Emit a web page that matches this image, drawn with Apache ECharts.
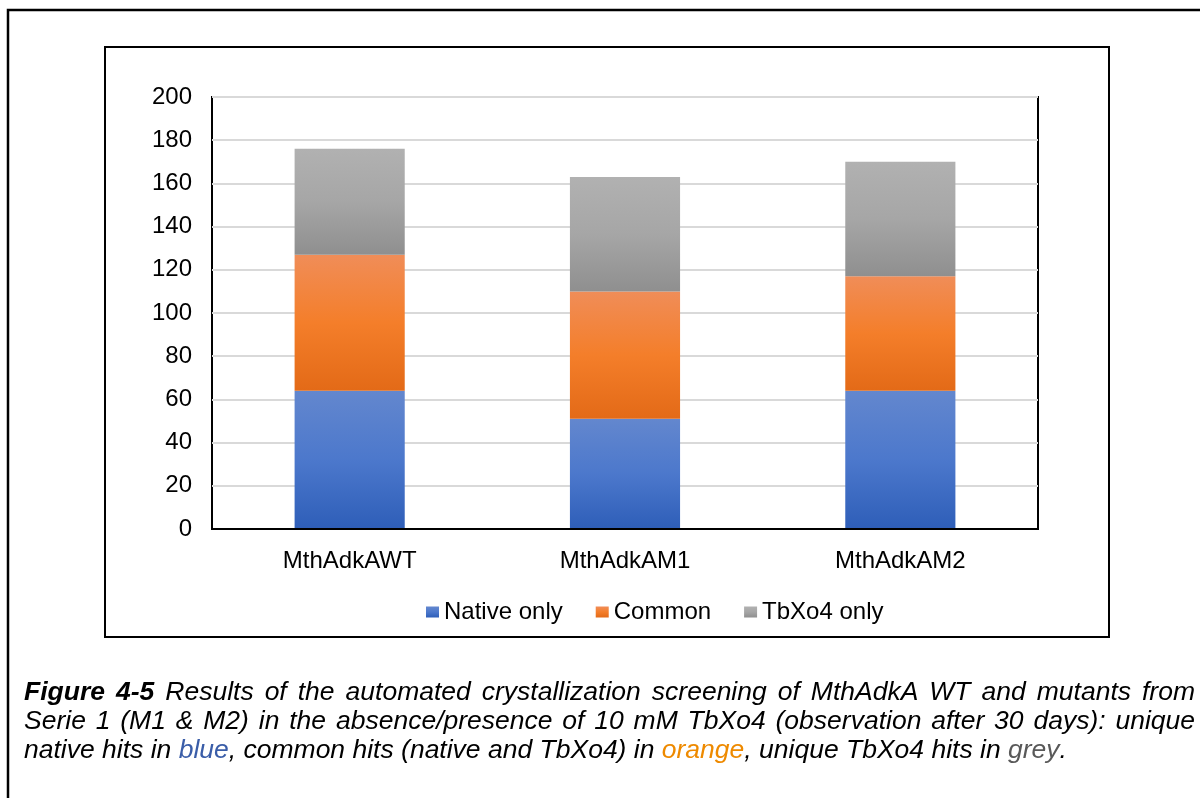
<!DOCTYPE html>
<html><head><meta charset="utf-8">
<script src="https://cdn.jsdelivr.net/npm/echarts@6/dist/echarts.min.js"></script>
<style>html,body{margin:0;padding:0;background:#fff}#c{width:1200px;height:798px}</style>
</head><body><div id="c"></div>
<script>
// ---- data ----
const categories = ['MthAdkAWT', 'MthAdkAM1', 'MthAdkAM2'];
const nativeOnly = [64, 51, 64];
const common = [63, 59, 53];
const tbxo4Only = [49, 53, 53];
const seriesNames = ['Native only', 'Common', 'TbXo4 only'];
const yMin = 0, yMax = 200, yInterval = 20;
const captionLine1 = 'Figure 4-5 Results of the automated crystallization screening of MthAdkA WT and mutants from';
const captionLine2 = 'Serie 1 (M1 & M2) in the absence/presence of 10 mM TbXo4 (observation after 30 days): unique';
const captionLine3 = 'native hits in {bl|blue}, common hits (native and TbXo4) in {or|orange}, unique TbXo4 hits in {gr|grey}.';

// ---- styles ----
const FONT = '"Liberation Sans", Arial, sans-serif';
function grad(stops) {
  return { type: 'linear', x: 0, y: 0, x2: 0, y2: 1, colorStops: stops.map(s => ({ offset: s[0], color: s[1] })) };
}
const blueG = grad([[0, '#6387CE'], [0.5, '#4C78CC'], [1, '#2E5EB8']]);
const orangeG = grad([[0, '#F08D58'], [0.5, '#F47E2A'], [1, '#E36A17']]);
const greyG = grad([[0, '#B1B1B1'], [0.5, '#A6A6A6'], [1, '#8F8F8F']]);

// ---- caption layout ----
const capSize = 26.5;
const capLeft = 24, capRight = 1195;
const capY = [693, 722, 751];
const cv = document.createElement('canvas').getContext('2d');
function measure(txt, bold) {
  cv.font = 'italic ' + (bold ? 'bold ' : '') + capSize + 'px "Liberation Sans"';
  return cv.measureText(txt).width;
}
const richStyles = {
  bl: { fill: '#3A5DA8', fontStyle: 'italic', fontSize: capSize, fontFamily: FONT },
  or: { fill: '#EE8A00', fontStyle: 'italic', fontSize: capSize, fontFamily: FONT },
  gr: { fill: '#595959', fontStyle: 'italic', fontSize: capSize, fontFamily: FONT }
};
function stripTags(s) { return s.replace(/\{(\w+)\|([^}]*)\}/g, '$2'); }
function layoutLine(str, y, justify, boldCount) {
  const words = str.split(' ');
  const widths = words.map((w, i) => measure(stripTags(w), i < boldCount));
  const sum = widths.reduce((a, b) => a + b, 0);
  const gap = justify ? (capRight - capLeft - sum) / (words.length - 1) : measure(' ', false);
  let x = capLeft;
  const els = [];
  words.forEach((w, i) => {
    els.push({
      type: 'text', x: x, y: y, silent: true,
      style: {
        text: w, fill: '#000', fontStyle: 'italic', fontWeight: i < boldCount ? 'bold' : 'normal',
        fontSize: capSize, fontFamily: FONT, verticalAlign: 'middle', align: 'left',
        rich: richStyles
      }
    });
    x += widths[i] + gap;
  });
  return els;
}
const captionEls = [].concat(
  layoutLine(captionLine1, capY[0], true, 2),
  layoutLine(captionLine2, capY[1], true, 0),
  layoutLine(captionLine3, capY[2], false, 0)
);

const chart = echarts.init(document.getElementById('c'), null, { renderer: 'canvas' });
chart.setOption({
  animation: false,
  backgroundColor: '#fff',
  textStyle: { fontFamily: FONT },
  grid: { left: 212, top: 97, width: 826, height: 432, show: true, borderColor: '#000', borderWidth: 2, backgroundColor: 'transparent', containLabel: false },
  legend: {
    data: seriesNames, left: 421, top: 595, icon: 'rect', itemWidth: 13, itemHeight: 11, itemGap: 33,
    textStyle: { fontSize: 24, color: '#000', fontFamily: FONT }
  },
  xAxis: {
    type: 'category', data: categories, z: 5,
    axisLine: { show: true, lineStyle: { color: '#000', width: 2 } },
    axisTick: { show: false },
    axisLabel: { fontSize: 24, color: '#000', margin: 20, fontFamily: FONT }
  },
  yAxis: {
    type: 'value', min: yMin, max: yMax, interval: yInterval,
    axisLine: { show: false }, axisTick: { show: false },
    axisLabel: { fontSize: 24, color: '#000', margin: 20, fontFamily: FONT },
    splitLine: { lineStyle: { color: '#D9D9D9', width: 2 } }
  },
  series: [
    { name: seriesNames[0], type: 'bar', stack: 'a', data: nativeOnly, barWidth: '40%', itemStyle: { color: blueG } },
    { name: seriesNames[1], type: 'bar', stack: 'a', data: common, barWidth: '40%', itemStyle: { color: orangeG } },
    { name: seriesNames[2], type: 'bar', stack: 'a', data: tbxo4Only, barWidth: '40%', itemStyle: { color: greyG } }
  ],
  graphic: [
    { type: 'rect', silent: true, z: 10, shape: { x: 8, y: 10, width: 1400, height: 1000 }, style: { fill: 'none', stroke: '#000', lineWidth: 2.5 } },
    { type: 'rect', silent: true, z: 10, shape: { x: 105, y: 47, width: 1004, height: 590 }, style: { fill: 'none', stroke: '#000', lineWidth: 2 } }
  ].concat(captionEls)
});
</script>
</body></html>
